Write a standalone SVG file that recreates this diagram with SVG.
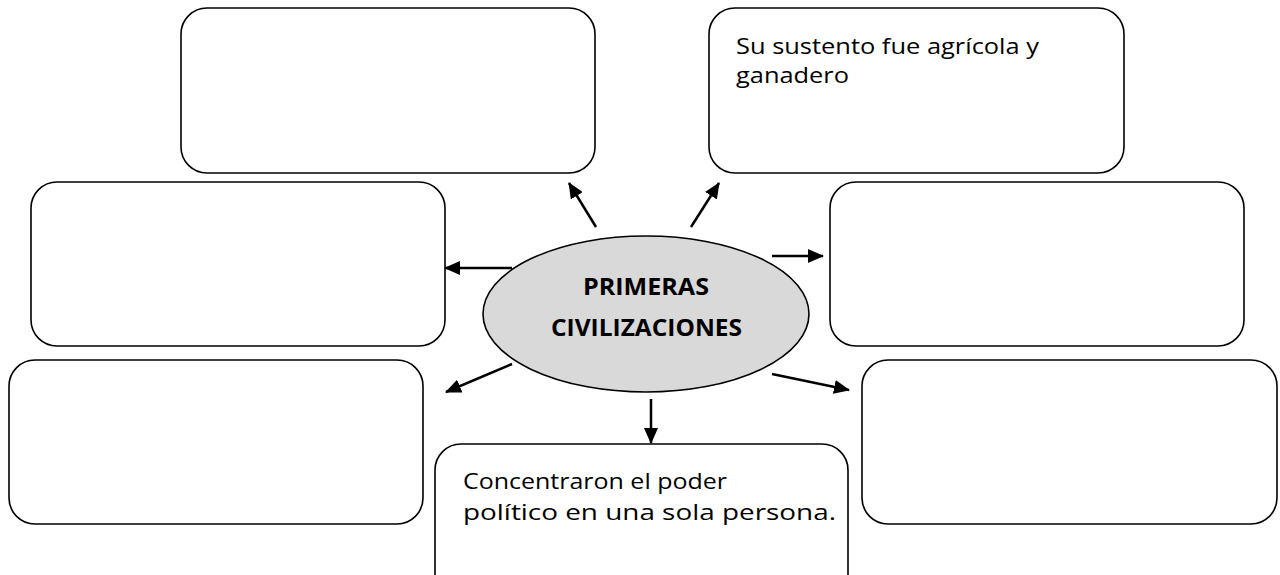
<svg xmlns="http://www.w3.org/2000/svg" width="1280" height="575" viewBox="0 0 1280 575">
<style>
.box{fill:#fff;stroke:#000;stroke-width:1.6}
.txt{font-family:"Open Sans","Liberation Sans",sans-serif;font-size:21px;fill:#000}
.ctr{font-family:"Open Sans","Liberation Sans",sans-serif;font-size:24px;font-weight:bold;fill:#000}
.arr{stroke:#000;stroke-width:2.5;fill:none;marker-end:url(#ah)}
</style>
<defs>
<marker id="ah" markerUnits="userSpaceOnUse" markerWidth="16" markerHeight="14" refX="15" refY="7" orient="auto">
<path d="M0,0 L16,7 L0,14 Z" fill="#000"/>
</marker>
</defs>
<rect width="1280" height="575" fill="#fff"/>
<g id="node-top-left"><rect class="box" x="181" y="8" width="414" height="165" rx="26"/></g>
<g id="node-top-right"><rect class="box" x="709" y="8" width="415" height="165" rx="26"/>
<text class="txt" x="736" y="54" textLength="303" lengthAdjust="spacingAndGlyphs">Su sustento fue agrícola y</text>
<text class="txt" x="736" y="83" textLength="113" lengthAdjust="spacingAndGlyphs">ganadero</text></g>
<g id="node-mid-left"><rect class="box" x="31" y="182" width="414" height="164" rx="26"/></g>
<g id="node-mid-right"><rect class="box" x="830" y="182" width="414" height="164" rx="26"/></g>
<g id="node-bottom-left"><rect class="box" x="9" y="360" width="414" height="164" rx="26"/></g>
<g id="node-bottom-right"><rect class="box" x="862" y="360" width="415" height="164" rx="26"/></g>
<g id="node-bottom-center"><rect class="box" x="435" y="444" width="413" height="165" rx="26"/>
<text class="txt" x="463" y="489" textLength="264" lengthAdjust="spacingAndGlyphs">Concentraron el poder</text>
<text class="txt" x="463" y="520" textLength="373" lengthAdjust="spacingAndGlyphs">político en una sola persona.</text></g>
<g id="node-center"><ellipse cx="646" cy="314" rx="163" ry="78" fill="#d9d9d9" stroke="#000" stroke-width="1.6"/>
<text class="ctr" x="583" y="295" textLength="126" lengthAdjust="spacingAndGlyphs">PRIMERAS</text>
<text class="ctr" x="551" y="336" textLength="191" lengthAdjust="spacingAndGlyphs">CIVILIZACIONES</text></g>
<g id="connectors">
<line class="arr" x1="596" y1="227" x2="569" y2="183"/>
<line class="arr" x1="691" y1="227" x2="719" y2="183"/>
<line class="arr" x1="512" y1="268" x2="445" y2="268"/>
<line class="arr" x1="772" y1="256" x2="823" y2="256"/>
<line class="arr" x1="512" y1="364" x2="446" y2="392"/>
<line class="arr" x1="772" y1="374" x2="849" y2="390"/>
<line class="arr" x1="651" y1="399" x2="651" y2="443"/>
</g>
</svg>
